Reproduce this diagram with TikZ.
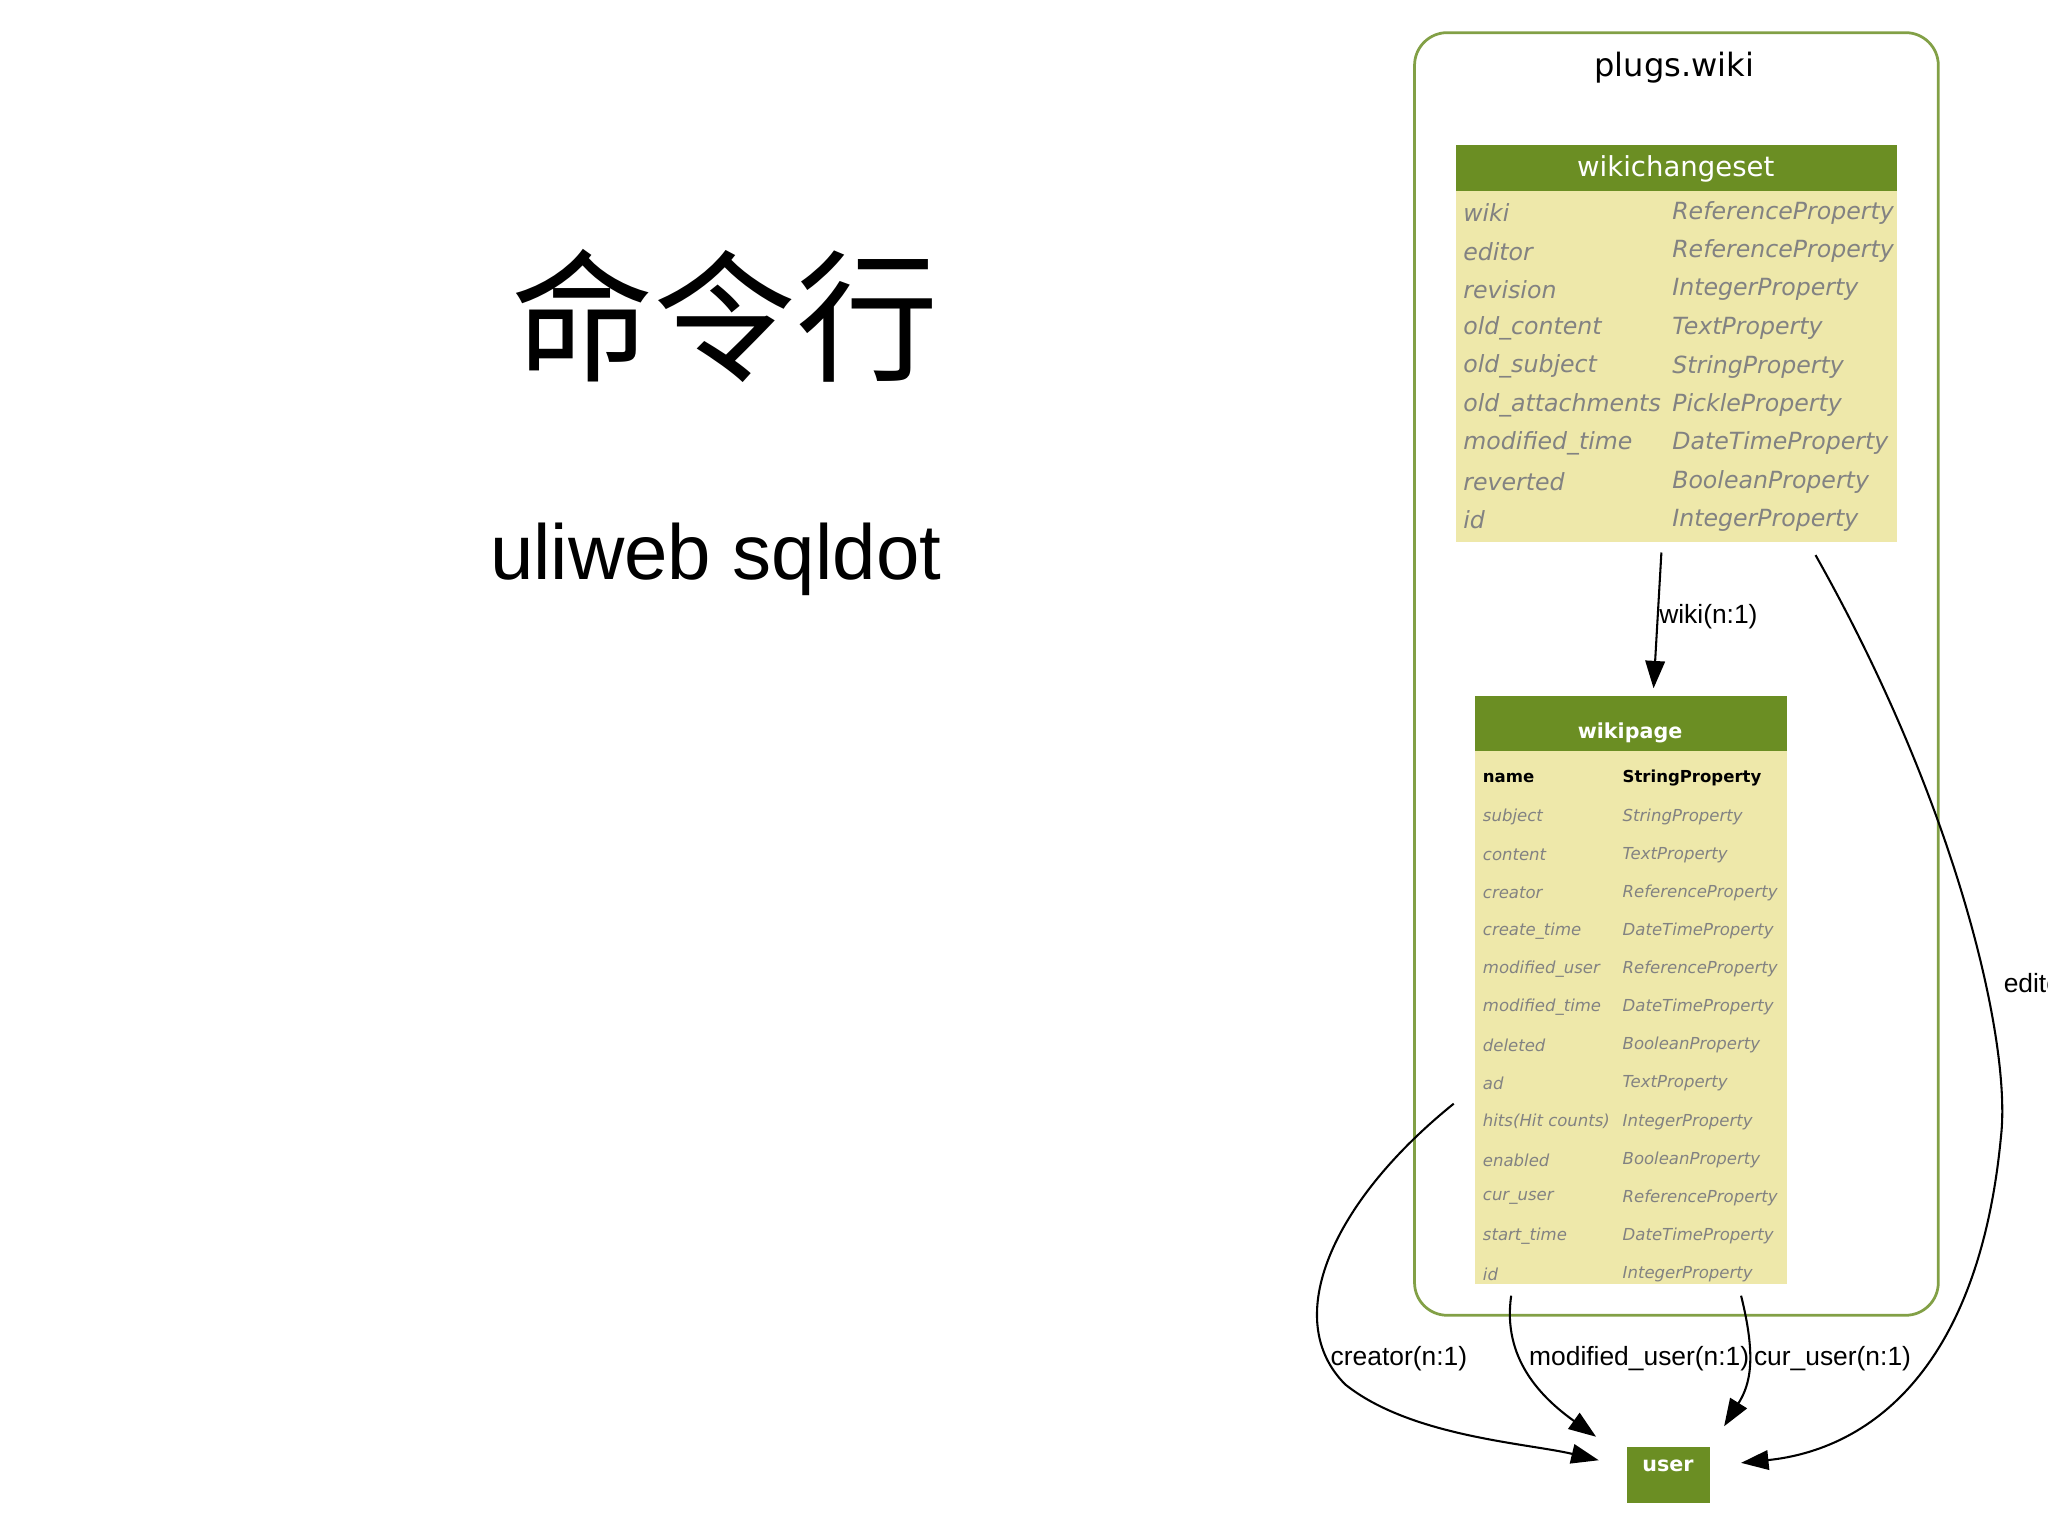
\documentclass[tikz,border=0pt]{standalone}
\usepackage{fontspec}
\setmainfont{Liberation Sans}
\newfontfamily\cjk{Noto Sans CJK SC}
\newfontfamily\dv{DejaVu Sans}
\usetikzlibrary{arrows.meta}
\definecolor{hdr}{RGB}{107,142,35}
\definecolor{body}{RGB}{238,232,170}
\definecolor{clu}{RGB}{130,160,70}
\definecolor{ftxt}{RGB}{130,130,130}
\tikzset{
 fld/.style={anchor=west,inner sep=0pt,text=ftxt,font=\dv\itshape\fontsize{10.3}{10}\selectfont},
 sfld/.style={anchor=west,inner sep=0pt,text=ftxt,font=\dv\itshape\fontsize{7.2}{7}\selectfont},
 hd/.style={text=white,font=\dv\fontsize{12}{12}\selectfont},
 rel/.style={line width=0.9pt,-{Triangle[length=0.42cm,width=0.3cm]}},
 lbl/.style={font=\fontsize{11.5}{11}\selectfont,inner sep=1pt}
}
\begin{document}
\begin{tikzpicture}[x=0.02cm,y=-0.02cm]
\useasboundingbox (0,0) rectangle (1568,1176);
\node[font=\cjk\fontsize{62}{62}\selectfont] (t1) at (555,242) {命令行};
\node[font=\fontsize{34}{34}\selectfont] (t2) at (548,428) {uliweb sqldot};
\draw[clu,line width=1.2pt,rounded corners=0.5cm] (1083,25) rectangle (1484,1007);
\node[font=\dv\fontsize{14}{14}\selectfont] (cl) at (1282,52) {plugs.wiki};
% wikichangeset
\fill[body] (1115,146) rectangle (1452,415);
\fill[hdr] (1115,111) rectangle (1452,146);
\node[hd] (wc) at (1283,129) {wikichangeset};
\foreach \a/\b [count=\i from 0] in {wiki/ReferenceProperty,editor/ReferenceProperty,revision/IntegerProperty,old\_content/TextProperty,old\_subject/StringProperty,old\_attachments/PickleProperty,modified\_time/DateTimeProperty,reverted/BooleanProperty,id/IntegerProperty}{
 \node[fld] at (1120,163+29.4*\i) {\a};
 \node[fld] at (1280,163+29.4*\i) {\b};
}
\coordinate (wcs) at (1272,423);
\coordinate (wce) at (1390,425);
% wikipage
\fill[body] (1129,575) rectangle (1368,983);
\fill[hdr] (1129,533) rectangle (1368,575);
\node[hd,font=\dv\bfseries\fontsize{9}{9}\selectfont] (wp) at (1248,561) {wikipage};
\node[anchor=west,inner sep=0pt,font=\dv\bfseries\fontsize{7.2}{7}\selectfont] at (1135,596) {name};
\node[anchor=west,inner sep=0pt,font=\dv\bfseries\fontsize{7.2}{7}\selectfont] at (1242,596) {StringProperty};
\foreach \a/\b [count=\i from 1] in {subject/StringProperty,content/TextProperty,creator/ReferenceProperty,create\_time/DateTimeProperty,modified\_user/ReferenceProperty,modified\_time/DateTimeProperty,deleted/BooleanProperty,ad/TextProperty,hits(Hit counts)/IntegerProperty,enabled/BooleanProperty,cur\_user/ReferenceProperty,start\_time/DateTimeProperty,id/IntegerProperty}{
 \node[sfld] at (1135,596+29.2*\i) {\a};
 \node[sfld] at (1242,596+29.2*\i) {\b};
}
\coordinate (wpt) at (1266,527);
\coordinate (wcr) at (1113,845);
\coordinate (wmu) at (1157,992);
\coordinate (wcu) at (1333,992);
% user
\fill[hdr] (1246,1108) rectangle (1309,1151);
\node[hd,font=\dv\bfseries\fontsize{9}{9}\selectfont] (user) at (1277,1122) {user};
\coordinate (uL) at (1224,1118);
\coordinate (uLt) at (1222,1100);
\coordinate (uT) at (1320,1092);
\coordinate (uR) at (1333,1120);
% edges
\draw[rel] (wcs) -- (wpt);
\node[lbl] at (1308,472) {wiki(n:1)};
\draw[rel] (wce) .. controls (1500,620) and (1540,800) .. (1532,870) .. controls (1515,1050) and (1430,1110) .. (uR);
\node[lbl,anchor=west] at (1532,755) {editor(n:1)};
\draw[rel] (wcr) .. controls (1020,920) and (980,1010) .. (1030,1060) .. controls (1080,1100) and (1170,1105) .. (uL);
\node[lbl] at (1071,1040) {creator(n:1)};
\draw[rel] (wmu) .. controls (1150,1040) and (1180,1070) .. (uLt);
\node[lbl] at (1255,1040) {modified\_user(n:1)};
\draw[rel] (wcu) .. controls (1345,1040) and (1340,1060) .. (uT);
\node[lbl] at (1403,1040) {cur\_user(n:1)};
\end{tikzpicture}
\end{document}
